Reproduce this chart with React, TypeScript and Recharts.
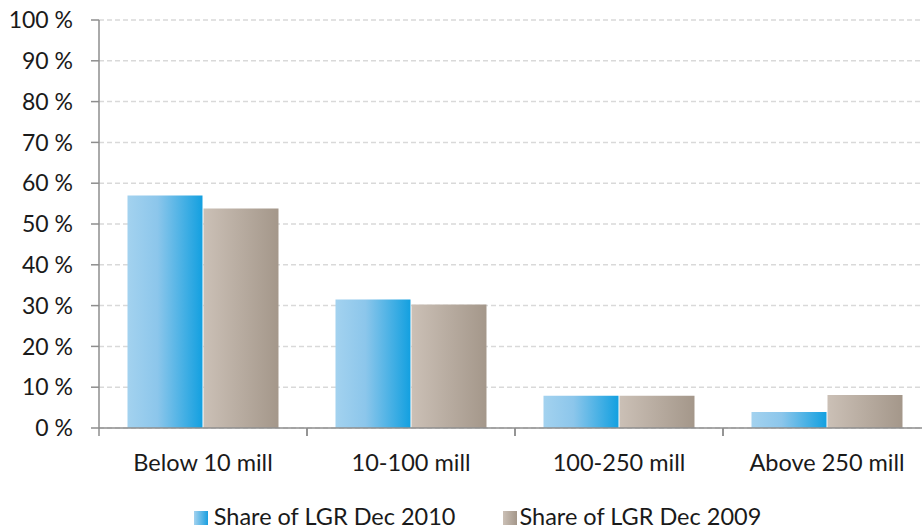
import React from 'react';
import {
  BarChart,
  Bar,
  XAxis,
  YAxis,
  CartesianGrid,
  Legend,
} from 'recharts';

// categories and series
const categories = ['Below 10 mill', '10-100 mill', '100-250 mill', 'Above 250 mill'];
const share2010 = [57, 31.5, 7.9, 3.9];
const share2009 = [53.8, 30.3, 7.9, 8.1];
const yTicks = [0, 10, 20, 30, 40, 50, 60, 70, 80, 90, 100];

const seriesNames = ['Share of LGR Dec 2010', 'Share of LGR Dec 2009'];

const data = categories.map((c, i) => ({
  name: c,
  s2010: share2010[i],
  s2009: share2009[i],
}));

// the plot runs a little past the right edge of the picture, so the chart is
// drawn wider and clipped
const W = 922;
const CHART_W = 931;
const H = 532;
const LEFT = 99;
const FONT = 'Lato, "Open Sans", sans-serif';
const AXIS = '#8e8e8e';
const BAND = (CHART_W - LEFT) / categories.length;

const CategoryTick = (props: any) => {
  const { x, y, payload } = props;
  return (
    <g>
      <line x1={x - BAND / 2} x2={x - BAND / 2} y1={y - 8} y2={y} stroke={AXIS} strokeWidth={1.5} />
      <line x1={x + BAND / 2} x2={x + BAND / 2} y1={y - 8} y2={y} stroke={AXIS} strokeWidth={1.5} />
      <text x={x} y={y + 35} textAnchor="middle" fontSize={23.5} fill="#1a1a1a" fontFamily={FONT}>
        {payload.value}
      </text>
    </g>
  );
};

const LegendContent = () => (
  <div
    style={{
      display: 'flex',
      justifyContent: 'center',
      alignItems: 'baseline',
      gap: 47,
      fontFamily: FONT,
      fontSize: 23.5,
      color: '#1a1a1a',
      paddingTop: 14,
      paddingLeft: 24,
    }}
  >
    <span style={{ display: 'flex', alignItems: 'baseline' }}>
      <span
        style={{
          width: 14,
          height: 14,
          marginRight: 6,
          background: 'linear-gradient(to right, #a3d2ef, #1a9fe0)',
        }}
      />
      {seriesNames[0]}
    </span>
    <span style={{ display: 'flex', alignItems: 'baseline' }}>
      <span
        style={{
          width: 14,
          height: 14,
          marginRight: 3,
          background: 'linear-gradient(to right, #cbc0b6, #a4978a)',
        }}
      />
      {seriesNames[1]}
    </span>
  </div>
);

export default function App() {
  return (
    <div
      style={{
        position: 'absolute',
        left: 0,
        top: 0,
        width: W,
        height: H,
        overflow: 'hidden',
        background: '#fff',
      }}
    >
      <BarChart
        width={CHART_W}
        height={H}
        data={data}
        margin={{ top: 20, right: 0, bottom: 0, left: 0 }}
        barCategoryGap="13.7%"
        barGap={1}
      >
        <defs>
          <linearGradient id="gBlue" x1="0" y1="0" x2="1" y2="0">
            <stop offset="0%" stopColor="#a3d2ef" />
            <stop offset="40%" stopColor="#8cc6eb" />
            <stop offset="100%" stopColor="#13a0e0" />
          </linearGradient>
          <linearGradient id="gGray" x1="0" y1="0" x2="1" y2="0">
            <stop offset="0%" stopColor="#cbc0b6" />
            <stop offset="100%" stopColor="#a4978a" />
          </linearGradient>
        </defs>
        <CartesianGrid vertical={false} stroke="#d9d9d9" strokeDasharray="5 3" strokeWidth={1.5} />
        <XAxis
          dataKey="name"
          height={60}
          axisLine={{ stroke: AXIS, strokeWidth: 1.5 }}
          tickLine={false}
          tick={<CategoryTick />}
          interval={0}
        />
        <YAxis
          width={LEFT}
          domain={[0, 100]}
          ticks={yTicks}
          interval={0}
          tickFormatter={(v: number) => `${v} %`}
          axisLine={{ stroke: AXIS, strokeWidth: 1.5 }}
          tickLine={{ stroke: AXIS, strokeWidth: 1.5 }}
          tickSize={8}
          tickMargin={18}
          tick={{ fontSize: 23, fill: '#1a1a1a', fontFamily: FONT }}
        />
        <Legend verticalAlign="bottom" height={44} content={<LegendContent />} />
        <Bar dataKey="s2010" name={seriesNames[0]} fill="url(#gBlue)" isAnimationActive={false} />
        <Bar dataKey="s2009" name={seriesNames[1]} fill="url(#gGray)" isAnimationActive={false} />
      </BarChart>
    </div>
  );
}
